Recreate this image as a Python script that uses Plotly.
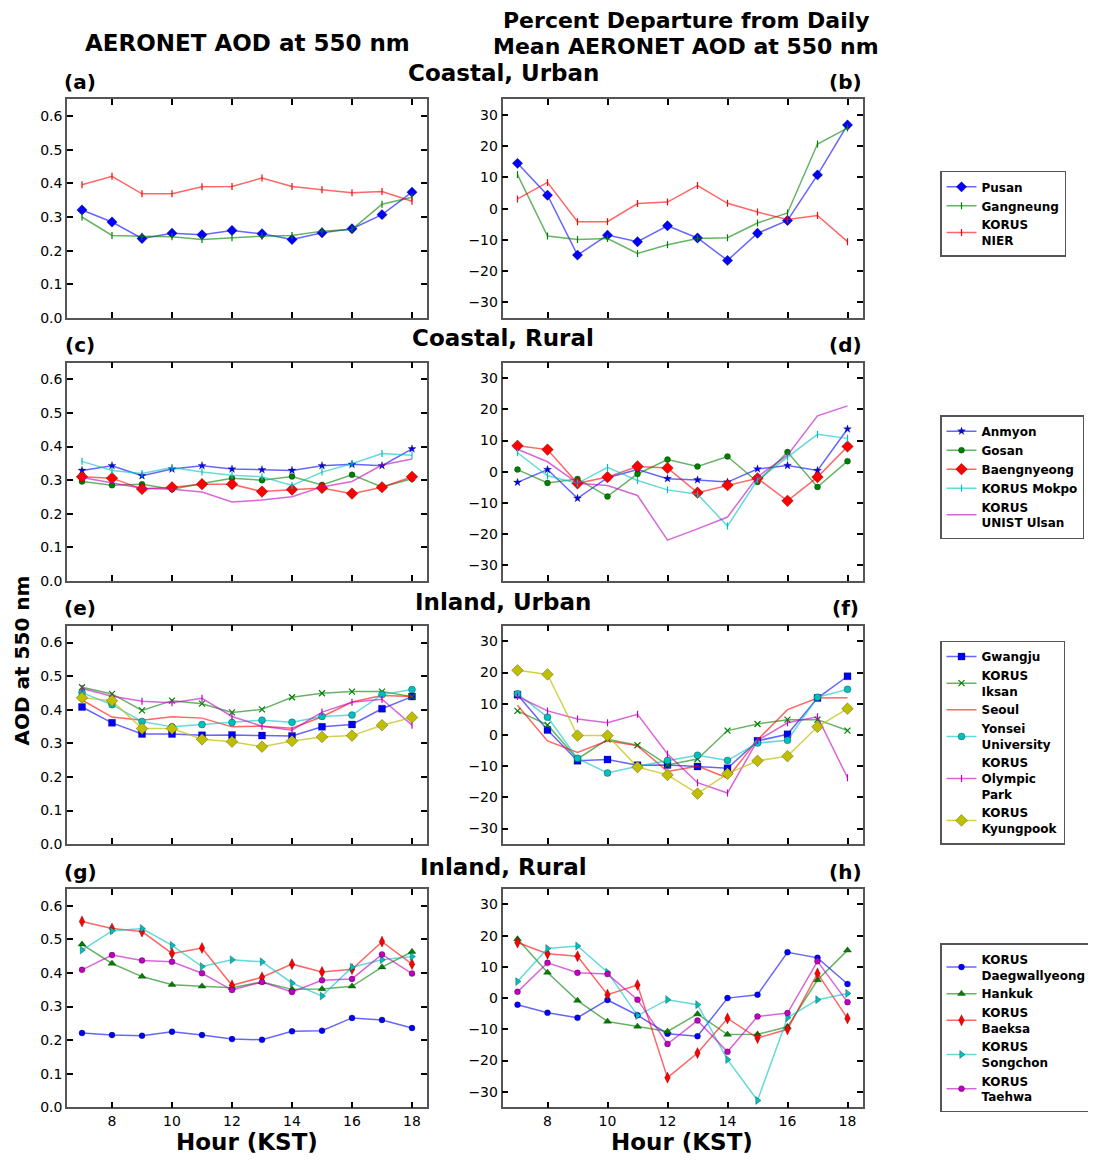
import plotly.graph_objects as go

# page body adds an 8px margin; the figure is sized to fill the rest of the window
OFF = 8
W, H = 1096 - OFF, 1164 - OFF

hours = [7, 8, 9, 10, 11, 12, 13, 14, 15, 16, 17, 18]
x_ticks = [8, 10, 12, 14, 16, 18]
aod_ticks = [0.0, 0.1, 0.2, 0.3, 0.4, 0.5, 0.6]
pct_ticks = [-30, -20, -10, 0, 10, 20, 30]

# ---- Coastal, Urban ----
cu_names = ["Pusan", "Gangneung", "KORUS<br>NIER"]
cu_aod = [
    [0.321, 0.285, 0.236, 0.252, 0.247, 0.260, 0.250, 0.233, 0.253, 0.265, 0.307, 0.374],
    [0.300, 0.245, 0.243, 0.241, 0.233, 0.238, 0.243, 0.245, 0.258, 0.263, 0.338, 0.359],
    [0.396, 0.421, 0.369, 0.369, 0.390, 0.391, 0.416, 0.391, 0.381, 0.372, 0.376, 0.347],
]
cu_pct = [
    [14.5, 4.3, -14.9, -8.5, -10.6, -5.5, -9.4, -16.6, -7.9, -3.8, 10.8, 26.8],
    [10.9, -8.8, -9.9, -9.6, -14.4, -11.6, -9.6, -9.3, -4.6, -1.4, 20.7, 25.8],
    [3.1, 8.4, -4.2, -4.2, 1.6, 2.1, 7.4, 1.7, -1.1, -3.5, -2.2, -10.6],
]

# ---- Coastal, Rural ----
cr_names = ["Anmyon", "Gosan", "Baengnyeong", "KORUS Mokpo", "KORUS<br>UNIST Ulsan"]
cr_aod = [
    [0.329, 0.343, 0.313, 0.333, 0.343, 0.333, 0.331, 0.329, 0.343, 0.347, 0.343, 0.393],
    [0.296, 0.285, 0.288, 0.273, 0.290, 0.306, 0.300, 0.311, 0.286, 0.316, 0.280, 0.304],
    [0.310, 0.306, 0.274, 0.279, 0.288, 0.288, 0.266, 0.272, 0.277, 0.260, 0.279, 0.310],
    [0.356, 0.329, 0.320, 0.338, 0.324, 0.315, 0.310, 0.284, 0.324, 0.349, 0.379, 0.374],
    [0.308, 0.293, 0.276, 0.273, 0.265, 0.235, 0.241, 0.251, 0.280, 0.296, 0.345, 0.363],
]
cr_pct = [
    [-3.4, 0.7, -8.5, -1.9, 0.7, -2.2, -2.6, -3.3, 0.9, 2.0, 0.4, 13.7],
    [0.7, -3.6, -2.3, -7.9, -0.7, 3.9, 1.7, 4.9, -3.3, 6.3, -4.9, 3.4],
    [8.3, 7.1, -3.7, -1.7, 1.7, 1.2, -6.7, -4.3, -2.1, -9.3, -1.7, 8.1],
    [6.1, -1.3, -3.7, 1.4, -2.8, -5.8, -7.2, -17.4, -2.6, 4.7, 12.0, 10.7],
    [7.2, 3.2, -3.7, -4.4, -7.6, -21.9, -18.3, -14.5, -1.6, 5.3, 17.9, 21.1],
]

# ---- Inland, Urban ----
iu_names = ["Gwangju", "KORUS<br>Iksan", "Seoul", "Yonsei<br>University",
            "KORUS<br>Olympic<br>Park", "KORUS<br>Kyungpook"]
iu_aod = [
    [0.408, 0.361, 0.328, 0.328, 0.324, 0.325, 0.323, 0.322, 0.349, 0.356, 0.403, 0.439],
    [0.467, 0.447, 0.398, 0.427, 0.418, 0.392, 0.401, 0.437, 0.449, 0.454, 0.454, 0.439],
    [0.429, 0.378, 0.369, 0.379, 0.375, 0.349, 0.351, 0.345, 0.379, 0.423, 0.442, 0.439],
    [0.451, 0.415, 0.365, 0.349, 0.356, 0.362, 0.369, 0.363, 0.380, 0.384, 0.445, 0.460],
    [0.463, 0.440, 0.425, 0.421, 0.434, 0.380, 0.351, 0.339, 0.393, 0.422, 0.431, 0.354],
    [0.436, 0.427, 0.344, 0.344, 0.312, 0.305, 0.290, 0.307, 0.319, 0.323, 0.354, 0.377],
]
iu_pct = [
    [12.9, 1.6, -8.3, -7.9, -9.7, -9.6, -10.1, -10.7, -1.9, 0.2, 11.8, 18.8],
    [7.7, 3.2, -7.7, -1.4, -3.3, -9.6, -7.7, 1.4, 3.5, 4.9, 4.9, 1.4],
    [9.5, -1.9, -5.6, -1.9, -3.5, -11.7, -10.0, -13.8, -1.6, 8.1, 11.8, 11.9],
    [13.2, 5.7, -7.5, -12.2, -10.0, -8.2, -6.5, -8.2, -2.6, -1.7, 12.1, 14.6],
    [12.3, 7.7, 5.1, 3.9, 6.6, -6.1, -15.3, -18.6, -1.8, 3.9, 5.8, -13.7],
    [20.7, 19.4, -0.2, -0.2, -10.3, -12.8, -18.8, -12.4, -8.3, -6.8, 2.6, 8.4],
]

# ---- Inland, Rural ----
ir_names = ["KORUS<br>Daegwallyeong", "Hankuk", "KORUS<br>Baeksa",
            "KORUS<br>Songchon", "KORUS<br>Taehwa"]
ir_aod = [
    [0.221, 0.215, 0.213, 0.225, 0.215, 0.203, 0.201, 0.226, 0.228, 0.266, 0.260, 0.236],
    [0.485, 0.428, 0.389, 0.365, 0.360, 0.356, 0.373, 0.351, 0.352, 0.360, 0.417, 0.463],
    [0.553, 0.532, 0.523, 0.458, 0.474, 0.363, 0.387, 0.426, 0.403, 0.411, 0.493, 0.426],
    [0.468, 0.525, 0.532, 0.482, 0.419, 0.439, 0.433, 0.370, 0.331, 0.417, 0.439, 0.449],
    [0.409, 0.453, 0.437, 0.433, 0.399, 0.349, 0.373, 0.343, 0.378, 0.382, 0.455, 0.398],
]
ir_pct = [
    [-2.1, -4.7, -6.3, -0.6, -5.5, -11.4, -12.2, 0.0, 1.1, 14.7, 12.9, 4.5],
    [18.9, 8.2, -0.8, -7.5, -9.1, -10.7, -5.1, -11.7, -11.6, -9.2, 5.8, 15.3],
    [17.8, 14.2, 13.4, 1.1, 4.2, -25.5, -17.6, -6.5, -12.8, -10.0, 7.9, -6.5],
    [5.3, 15.9, 16.7, 8.3, -5.6, -0.5, -2.1, -19.7, -32.8, -6.3, -0.5, 1.5],
    [2.0, 11.3, 8.1, 7.7, -0.5, -14.7, -7.2, -17.2, -5.9, -4.8, 11.8, -1.3],
]

# ---- styles ----
B, G, R, C, M, Y = "#0000ff", "#008000", "#ff0000", "#00bfbf", "#bf00bf", "#bfbf00"
ALPHA = {B: "rgba(0,0,255,0.6)", G: "rgba(0,128,0,0.6)", R: "rgba(255,0,0,0.6)",
         C: "rgba(0,191,191,0.6)", M: "rgba(191,0,191,0.6)", Y: "rgba(191,191,0,0.7)"}

cu_style = [(B, "diamond", 8), (G, "line-ns", 5), (R, "line-ns", 5)]
cr_style = [(B, "star", 6), (G, "circle", 6), (R, "diamond", 9), (C, "line-ns", 5), (M, None, 0)]
iu_style = [(B, "square", 7), (G, "x-thin", 6), (R, None, 0), (C, "circle", 7),
            (M, "line-ns", 5), (Y, "diamond", 9)]
ir_style = [(B, "circle", 6), (G, "triangle-up", 7), (R, "diamond-tall", 8),
            (C, "triangle-right", 7), (M, "circle", 6)]

FONT = "DejaVu Sans"


def px(x):
    return (x - OFF) / W


def py(y):
    return 1 - (y - OFF) / H


fig = go.Figure()

rows = [
    (cu_names, cu_aod, cu_pct, cu_style),
    (cr_names, cr_aod, cr_pct, cr_style),
    (iu_names, iu_aod, iu_pct, iu_style),
    (ir_names, ir_aod, ir_pct, ir_style),
]
row_tops = [100, 365, 630, 895]
panel_h = 220
left_x = (67, 427)
right_x = (502.5, 862.5)
legend_tops = [172, 418, 645, 950]


def marker_for(color, sym, size):
    if sym is None:
        return None
    if sym in ("line-ns", "x-thin"):
        return dict(symbol=sym, size=size, color=color, line=dict(color=color, width=1.2))
    return dict(symbol=sym, size=size, color=color,
                line=dict(color="rgba(0,0,0,0.45)", width=0.6))


for r, (names, aod, pct, styles) in enumerate(rows):
    li = 2 * r + 1
    ri = 2 * r + 2
    lname = "legend" if r == 0 else f"legend{r + 1}"
    for name, ya, yp, (col, sym, size) in zip(names, aod, pct, styles):
        mk = marker_for(col, sym, size)
        mode = "lines+markers" if mk else "lines"
        fig.add_trace(go.Scatter(
            x=hours, y=ya, mode=mode, name=f"<b>{name}</b>",
            line=dict(color=ALPHA[col], width=1.5), marker=mk,
            xaxis=f"x{li}", yaxis=f"y{li}", legend=lname, showlegend=True))
        fig.add_trace(go.Scatter(
            x=hours, y=yp, mode=mode, name=f"<b>{name}</b>",
            line=dict(color=ALPHA[col], width=1.5), marker=mk,
            xaxis=f"x{ri}", yaxis=f"y{ri}", showlegend=False))

layout = dict(
    width=W, height=H, margin=dict(l=0, r=0, t=0, b=0),
    paper_bgcolor="white", plot_bgcolor="white",
    font=dict(family=FONT, size=14, color="black"),
)

axis_common = dict(
    showgrid=False, zeroline=False, showline=True, linecolor="#555555", linewidth=1.5,
    mirror="ticks", ticks="inside", ticklen=6, tickwidth=2, tickcolor="black",
    tickfont=dict(family=FONT, size=14, color="black"),
)

for r in range(4):
    top = row_tops[r]
    dom_y = [py(top + panel_h), py(top)]
    li = 2 * r + 1
    ri = 2 * r + 2
    last = r == 3
    sfx_l = "" if li == 1 else str(li)
    sfx_r = str(ri)
    layout[f"xaxis{sfx_l}"] = dict(axis_common, domain=[px(left_x[0]), px(left_x[1])],
                                   range=[6.5, 18.5], tickvals=x_ticks, anchor=f"y{sfx_l}",
                                   showticklabels=last)
    layout[f"yaxis{sfx_l}"] = dict(axis_common, domain=dom_y, range=[0, 0.65],
                                   tickvals=aod_ticks, tickformat=".1f", anchor=f"x{sfx_l}")
    layout[f"xaxis{sfx_r}"] = dict(axis_common, domain=[px(right_x[0]), px(right_x[1])],
                                   range=[6.5, 18.5], tickvals=x_ticks, anchor=f"y{sfx_r}",
                                   showticklabels=last)
    layout[f"yaxis{sfx_r}"] = dict(axis_common, domain=dom_y, range=[-35, 35],
                                   tickvals=pct_ticks, anchor=f"x{sfx_r}")
    lname = "legend" if r == 0 else f"legend{r + 1}"
    layout[lname] = dict(
        x=px(940), y=py(legend_tops[r]), xanchor="left", yanchor="top",
        bordercolor="#555555", borderwidth=1.5, bgcolor="white",
        font=dict(family=FONT, size=12, color="black"),
        itemwidth=30, tracegroupgap=0,
    )

fig.update_layout(**layout)

ann = []


def text(x, y, t, size, angle=0):
    ann.append(dict(x=px(x), y=py(y), xref="paper", yref="paper", text=t,
                    showarrow=False, xanchor="center", yanchor="middle",
                    textangle=angle, font=dict(family=FONT, size=size, color="black")))


text(247, 43, "<b>AERONET AOD at 550 nm</b>", 23)
text(686, 21, "<b>Percent Departure from Daily</b>", 22)
text(686, 47, "<b>Mean AERONET AOD at 550 nm</b>", 22)
for t, y in zip(["Coastal, Urban", "Coastal, Rural", "Inland, Urban", "Inland, Rural"],
                [73, 340, 606, 873]):
    text(503, y, f"<b>{t}</b>", 23)
labels = ["(a)", "(b)", "(c)", "(d)", "(e)", "(f)", "(g)", "(h)"]
for i, lab in enumerate(labels):
    r = i // 2
    x = 80 if i % 2 == 0 else 845
    y = [83, 347, 612, 878][r]
    text(x, y, f"<b>{lab}</b>", 20)
text(247, 1150, "<b>Hour (KST)</b>", 23)
text(682, 1150, "<b>Hour (KST)</b>", 23)
text(22, 665, "<b>AOD at 550 nm</b>", 20, angle=-90)

fig.update_layout(annotations=ann)

fig.write_html("out.html")
